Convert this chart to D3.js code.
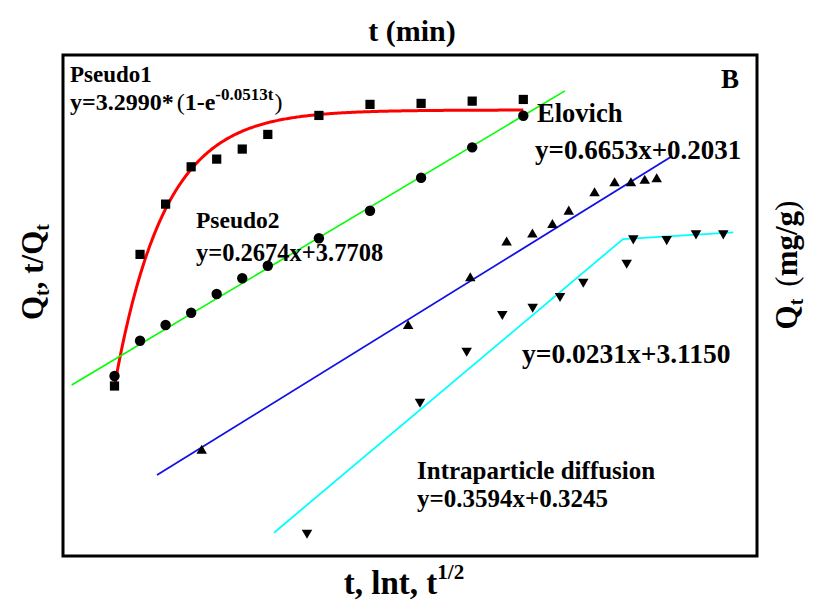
<!DOCTYPE html>
<html><head><meta charset="utf-8">
<script src="https://cdn.jsdelivr.net/npm/d3@7"></script>
<style>
body{margin:0;background:#fff}
svg{display:block}
text{font-family:"Liberation Serif","Times New Roman",serif;font-weight:bold;fill:#000}
</style>
</head><body><svg id="c" width="813" height="603"></svg>
<script>
// ---- data ----
const tMin      = [0,10,20,30,40,50,60,80,100,120,140,160];
const qPseudo1  = [0,1.573,2.174,2.620,2.712,2.832,3.007,3.234,3.366,3.378,3.405,3.425];
const tOverQ    = [0.88,7.07,9.82,11.98,15.26,18.02,20.23,25.04,29.88,35.67,41.00,46.54];
const tElovich  = [1,10,20,30,40,50,60,80,100,120,140,160];
const qElovich  = [0.163,1.658,2.230,2.659,2.755,2.869,3.029,3.249,3.369,3.369,3.400,3.417];
const sqrtT     = [0,3.165,4.473,5.471,6.322,7.087,7.739,8.955,9.140,10.076,10.896,11.661];
const qIntra    = [0,1.569,2.180,2.619,2.707,2.835,3.006,3.234,3.526,3.517,3.586,3.586];
// fitted models
const pseudo1Fit = [3.2990, 0.0513];      // qe, k1
const pseudo2Fit = [0.2674, 3.7708];      // slope, intercept
const elovichFit = [0.6653, 0.2031];      // slope, intercept
const pseudo1FitRange = [0, 160];
const pseudo2FitRange = [-16.75, 176.3];
const elovichFitRange = [-0.4985, 5.245];
const intraFitX = [-0.924, 8.852, 11.941];
const intraFitQ = [0.0, 3.517, 3.598];

// ---- layout ----
const svg = d3.select("#c");
const frame = {l:63, t:55, r:757, b:556};

// each overlaid model has its own hidden axes
const xT   = d3.scaleLinear().domain([0,160]).range([114.5,523.3]);
const yQ1  = d3.scaleLinear().domain([0,3.299]).range([386,110]);
const yTQ  = d3.scaleLinear().domain([0,46.55]).range([381,115.7]);
const xLn  = d3.scaleLinear().domain([0,Math.log(160)]).range([201.7,656.7]);
const yQE  = d3.scaleLinear().domain([0,3.693]).range([464.3,156.3]);
const xSq  = d3.scaleLinear().domain([0,10]).range([307,664]);
const yQI  = d3.scaleLinear().domain([0,3.234]).range([532.7,262.7]);

// frame
svg.append("rect").attr("x",frame.l).attr("y",frame.t)
  .attr("width",frame.r-frame.l).attr("height",frame.b-frame.t)
  .attr("fill","none").attr("stroke","#000").attr("stroke-width",3);

const line = d3.line();

// Pseudo-first-order curve
const curveT = d3.range(pseudo1FitRange[0], pseudo1FitRange[1]+0.5, 0.5);
svg.append("path")
  .attr("d", line(curveT.map(t => [xT(t), yQ1(pseudo1Fit[0]*(1-Math.exp(-pseudo1Fit[1]*t)))])))
  .attr("fill","none").attr("stroke","#ff0000").attr("stroke-width",3);

// Pseudo-second-order line
svg.append("path")
  .attr("d", line(pseudo2FitRange.map(t => [xT(t), yTQ(pseudo2Fit[0]*t+pseudo2Fit[1])])))
  .attr("fill","none").attr("stroke","#00ff00").attr("stroke-width",1.6);

// Elovich line
svg.append("path")
  .attr("d", line(elovichFitRange.map(x => [xLn(x), yQE(elovichFit[0]*x+elovichFit[1])])))
  .attr("fill","none").attr("stroke","#1010e8").attr("stroke-width",1.8);

// Intraparticle diffusion (two segments)
svg.append("path")
  .attr("d", line(intraFitX.map((x,i) => [xSq(x), yQI(intraFitQ[i])])))
  .attr("fill","none").attr("stroke","#00ffff").attr("stroke-width",1.8);

// markers
const sym = (type,size) => d3.symbol().type(type).size(size)();
svg.append("g").selectAll("path").data(tMin).join("path")
  .attr("d", sym(d3.symbolSquare, 85))
  .attr("transform",(t,i)=>`translate(${xT(t)},${yQ1(qPseudo1[i])})`).attr("fill","#000");
svg.append("g").selectAll("path").data(tMin).join("path")
  .attr("d", sym(d3.symbolCircle, 85))
  .attr("transform",(t,i)=>`translate(${xT(t)},${yTQ(tOverQ[i])})`).attr("fill","#000");
svg.append("g").selectAll("path").data(tElovich).join("path")
  .attr("d", sym(d3.symbolTriangle, 48))
  .attr("transform",(t,i)=>`translate(${xLn(Math.log(t))},${yQE(qElovich[i])})`).attr("fill","#000");
svg.append("g").selectAll("path").data(sqrtT).join("path")
  .attr("d", sym(d3.symbolTriangle, 48))
  .attr("transform",(x,i)=>`translate(${xSq(x)},${yQI(qIntra[i])}) rotate(180)`).attr("fill","#000");

// ---- texts ----
function txt(x,y,size,s){ return svg.append("text").attr("x",x).attr("y",y).attr("font-size",size).text(s); }

txt(412,41,30,"t (min)").attr("text-anchor","middle");

// bottom label
const bl = svg.append("text").attr("x",404).attr("y",594).attr("font-size",33).attr("text-anchor","middle");
bl.append("tspan").text("t, lnt, t");
bl.append("tspan").attr("font-size",21).attr("dy",-15).text("1/2");

// left label
const ll = svg.append("text").attr("transform","translate(43,272) rotate(-90)").attr("font-size",31).attr("text-anchor","middle");
ll.append("tspan").text("Q");
ll.append("tspan").attr("font-size",20).attr("dy",6).text("t");
ll.append("tspan").attr("dy",-6).text(", t/Q");
ll.append("tspan").attr("font-size",20).attr("dy",6).text("t");

// right label
const rl = svg.append("text").attr("transform","translate(797,265) rotate(-90)").attr("font-size",31).attr("text-anchor","middle");
rl.append("tspan").text("Q");
rl.append("tspan").attr("font-size",20).attr("dy",6).text("t");
rl.append("tspan").attr("dy",-6).attr("font-weight","normal").attr("dx",12).text("(");
rl.append("tspan").text("mg/g");
rl.append("tspan").attr("font-weight","normal").text(")");

txt(70,82,23,"Pseudo1");
const e1 = svg.append("text").attr("x",70).attr("y",110).attr("font-size",24);
e1.append("tspan").text("y=3.2990*");
e1.append("tspan").attr("font-weight","normal").attr("dx",3).text("(");
e1.append("tspan").text("1-e");
e1.append("tspan").attr("font-size",17).attr("dy",-10).text("-0.0513t");
e1.append("tspan").attr("font-weight","normal").attr("dy",10).attr("dx",1).text(")");

txt(721,88,27,"B");
txt(537,122,26.5,"Elovich");
txt(535,159,27,"y=0.6653x+0.2031");
txt(196,228,23.5,"Pseudo2");
txt(196,261,24.5,"y=0.2674x+3.7708");
txt(522,363,27.5,"y=0.0231x+3.1150");
txt(417,479,25,"Intraparticle diffusion");
txt(417,507,25,"y=0.3594x+0.3245");
</script>
</body></html>
